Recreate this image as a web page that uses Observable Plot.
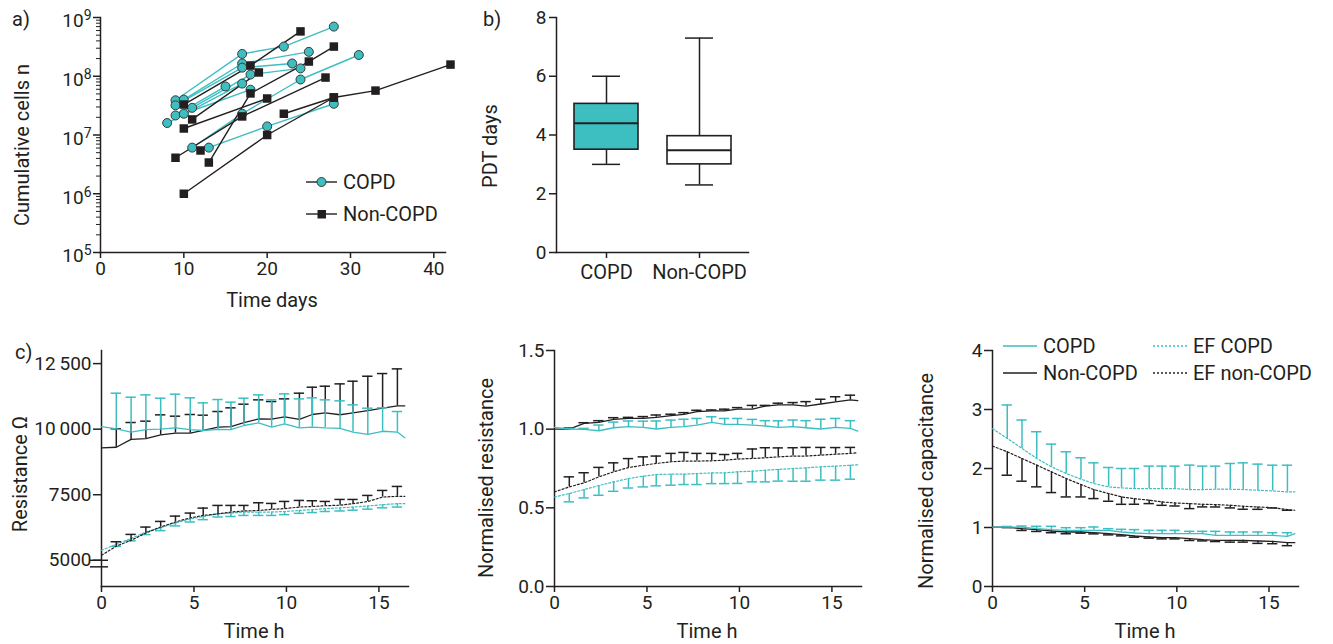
<!DOCTYPE html>
<html><head><meta charset="utf-8">
<script src="https://cdn.jsdelivr.net/npm/d3@7"></script>
<script src="https://cdn.jsdelivr.net/npm/@observablehq/plot@0.6"></script>
<style>
body{margin:0;background:#fff;}
#root{position:relative;width:1333px;height:644px;overflow:hidden;font-family:Roboto,"DejaVu Sans",sans-serif;color:#231f20;background:#fff;}
.lbl{position:absolute;font-size:20px;line-height:20px;white-space:nowrap;}
.rot{transform:translate(-50%,-50%) rotate(-90deg);}
.ctr{transform:translate(-50%,-50%);}
.leg{position:absolute;display:flex;align-items:center;font-size:20px;line-height:20px;white-space:nowrap;}
.leg svg{margin-right:6px;overflow:visible;}
</style></head><body><div id="root"></div><script>
// ---------- Panel a data ----------
const copdDonor = [1,1,1,1, 2,2,2, 3,3,3,3, 4,4,4, 5,5,5, 6,6,6, 7,7, 8,8, 9,9];
const copdDay   = [11,17,24,31, 13,20,28, 9,17,22,28, 10,17,25, 9,17,23, 11,18,24, 9,15, 10,18, 8,17];
const copdCells = [6.1e6,2.3e7,8.8e7,2.3e8, 6.1e6,1.4e7,3.4e7, 3.9e7,2.4e8,3.2e8,7.0e8, 4.0e7,1.65e8,2.6e8, 3.2e7,1.4e8,1.65e8, 2.9e7,1.07e8,1.36e8, 2.15e7,6.7e7, 2.3e7,5.9e7, 1.6e7,7.5e7];
const nonDonor = [1,1,1, 2,2,2, 3,3,3,3, 4,4,4,4, 5,5,5, 6,6, 7,7, 8];
const nonDay   = [10,20,28, 9,17,27, 13,18,25,28, 22,28,33,42, 10,18,24, 11,19, 10,20, 12];
const nonCells = [1.0e6,1.0e7,4.35e7, 4.1e6,2.07e7,9.5e7, 3.4e6,5.1e7,1.78e8,3.2e8, 2.3e7,4.35e7,5.7e7,1.58e8, 3.3e7,1.52e8,5.8e8, 1.84e7,1.16e8, 1.29e7,4.18e7, 5.45e6];
const aTicksX = [0,10,20,30,40];
const aTicksY = [1e5,1e6,1e7,1e8,1e9];

// ---------- Panel b data ----------
const boxGroups = ["COPD","Non-COPD"];
const boxMin = [3.0, 2.3];
const boxQ1  = [3.5, 3.0];
const boxMed = [4.4, 3.48];
const boxQ3  = [5.06, 3.96];
const boxMax = [6.0, 7.3];
const bTicksY = [0,2,4,6,8];

// ---------- Panel c data ----------
const times = [0,0.8,1.6,2.4,3.2,4.0,4.8,5.5,6.3,7.0,7.7,8.5,9.2,9.9,10.7,11.4,12.1,12.9,13.6,14.4,15.2,16.0,16.4];
const cTicksX = [0,5,10,15];
// resistance (ohm)
const resCopd = [10100,10010,9890,9980,10000,10050,9980,9950,9990,9980,10140,10240,10080,10200,10050,10080,10050,10030,9890,9800,9920,9890,9670];
const resCopdErr = [null,1362,1329,1328,1181,1284,1214,1053,1140,1049,1041,1068,1038,1146,1106,1114,1068,1050,1037,1000,893,783,null];
const resNon = [9290,9310,9610,9640,9780,9850,9850,9950,10080,10100,10250,10390,10380,10470,10370,10560,10620,10550,10620,10710,10800,10890,10890];
const resNonErr = [null,703,644,665,766,645,709,583,593,713,703,728,674,686,1002,1040,1018,1177,1209,1309,1321,1409,null];
const resEfCopd = [5380,5610,5830,6080,6240,6420,6580,6670,6770,6800,6840,6840,6840,6860,6900,6930,6970,7000,7030,7070,7120,7160,7160];
const resEfCopdErr = [null,80,90,100,110,110,120,120,120,130,130,130,130,120,110,110,110,120,120,120,120,130,null];
const resEfNon = [5190,5540,5760,6040,6270,6460,6620,6710,6770,6840,6880,6900,6940,6970,7030,7050,7080,7100,7160,7240,7410,7440,7440];
const resEfNonErr = [null,167,227,226,212,225,180,280,322,252,212,293,228,274,252,220,164,220,160,233,253,376,null];
const resTicksY = [5000,7500,10000,12500];
// normalised resistance
const nrCopd = [1.011,1.001,0.999,0.990,1.009,1.016,1.011,1.001,1.011,1.016,1.026,1.043,1.030,1.030,1.026,1.020,1.011,1.016,1.009,1.001,1.011,1.005,0.988];
const nrCopdErr = [null,.004,.006,.036,.036,.036,.040,.051,.047,.047,.042,.036,.038,.038,.036,.034,.042,.042,.045,.062,.057,.049,null];
const nrNon = [1.00,1.00,1.037,1.043,1.062,1.069,1.069,1.075,1.086,1.094,1.111,1.116,1.116,1.128,1.128,1.147,1.154,1.154,1.147,1.160,1.174,1.186,1.181];
const nrNonErr = [null,.008,.004,.011,.011,.006,.011,.015,.009,.011,.009,.006,.011,.009,.023,.004,.011,.015,.028,.030,.032,.030,null];
const nrEfCopd = [0.569,0.591,0.616,0.642,0.665,0.686,0.701,0.712,0.714,0.714,0.718,0.722,0.722,0.729,0.733,0.739,0.744,0.750,0.754,0.761,0.765,0.771,0.773];
const nrEfCopdErr = [null,.053,.053,.062,.060,.060,.068,.072,.070,.066,.070,.068,.068,.074,.068,.074,.074,.081,.085,.085,.089,.089,null];
const nrEfNon = [0.601,0.633,0.659,0.697,0.729,0.756,0.771,0.782,0.793,0.797,0.797,0.799,0.803,0.810,0.814,0.818,0.824,0.829,0.829,0.835,0.841,0.846,0.850];
const nrEfNonErr = [null,.064,.064,.060,.057,.057,.053,.047,.053,.055,.049,.047,.036,.036,.060,.064,.057,.053,.055,.049,.042,.038,null];
const nrTicksY = [0,0.5,1.0,1.5];
// normalised capacitance
const ncCopd = [1.008,1.008,1.008,0.980,0.963,0.952,0.952,0.952,0.952,0.924,0.907,0.895,0.895,0.895,0.895,0.895,0.867,0.867,0.867,0.867,0.867,0.850,0.895];
const ncCopdErr = [null,.01,.017,.040,.057,.045,.045,.057,.028,.045,.057,.057,.057,.057,.040,.040,.068,.057,.057,.057,.045,.062,null];
const ncNon = [1.008,1.008,0.980,0.963,0.941,0.924,0.924,0.912,0.895,0.878,0.856,0.839,0.827,0.827,0.810,0.793,0.782,0.782,0.782,0.771,0.765,0.742,0.742];
const ncNonErr = [null,.01,.03,.03,.03,.03,.02,.02,.02,.02,.02,.02,.02,.02,.03,.02,.02,.03,.03,.04,.04,.05,null];
const ncEfCopd = [2.674,2.510,2.340,2.170,2.028,1.915,1.819,1.745,1.688,1.671,1.660,1.660,1.660,1.660,1.643,1.643,1.649,1.649,1.643,1.632,1.620,1.603,1.603];
const ncEfCopdErr = [null,.567,.482,.453,.385,.368,.363,.351,.329,.329,.340,.380,.380,.380,.414,.397,.391,.436,.453,.442,.436,.453,null];
const ncEfNon = [2.380,2.283,2.170,2.057,1.943,1.830,1.728,1.643,1.575,1.518,1.490,1.462,1.433,1.416,1.405,1.394,1.388,1.377,1.360,1.348,1.337,1.303,1.292];
const ncEfNonErr = [null,.397,.385,.368,.351,.312,.210,.153,.130,.125,.096,.057,.057,.051,.085,.045,.040,.045,.051,.040,.006,.011,null];
const ncTicksY = [0,1,2,3,4];

// ---------- styling ----------
const teal = "#3dbec1", ink = "#231f20";
const root = document.getElementById("root");
const baseStyle = {fontFamily: "Roboto, 'DejaVu Sans', sans-serif", fontSize: "19px", color: ink, background: "transparent", overflow: "visible"};
function put(node, left, top) {
  node.style.position = "absolute"; node.style.left = left + "px"; node.style.top = top + "px";
  root.appendChild(node); return node;
}
function label(text, x, y, cls) {
  const d = document.createElement("div");
  d.className = "lbl " + cls; d.textContent = text;
  d.style.left = x + "px"; d.style.top = y + "px";
  root.appendChild(d);
}
function legendItem(text, x, yc, swatch) {
  const d = document.createElement("div");
  d.className = "leg";
  d.innerHTML = swatch;
  d.appendChild(document.createTextNode(text));
  d.style.left = x + "px"; d.style.top = (yc - 10) + "px";
  root.appendChild(d);
}

// ---------- Panel a ----------
const copd = copdDay.map((d, i) => ({donor: copdDonor[i], day: d, cells: copdCells[i]}));
const non = nonDay.map((d, i) => ({donor: nonDonor[i], day: d, cells: nonCells[i]}));
const minorA = [];
for (let e = 5; e < 9; e++) for (let m = 2; m < 10; m++) minorA.push(m * Math.pow(10, e));
const plotA = Plot.plot({
  width: 460, height: 320, marginLeft: 100, marginRight: 15, marginTop: 17, marginBottom: 68,
  style: baseStyle,
  x: {domain: [0, 41.4]},
  y: {type: "log", domain: [1e5, 1e9]},
  marks: [
    Plot.frame({anchor: "left", stroke: ink, strokeWidth: 1.5}),
    Plot.frame({anchor: "bottom", stroke: ink, strokeWidth: 1.5}),
    Plot.axisY({ticks: minorA, tickSize: 4, tickFormat: () => "", strokeWidth: 1, label: null}),
    Plot.axisY({ticks: aTicksY, tickSize: 7, tickPadding: 2, strokeWidth: 1.5, label: null,
      tickFormat: d => "10^" + Math.round(Math.log10(d))}),
    Plot.axisX({ticks: aTicksX, tickSize: 6, tickPadding: 3, strokeWidth: 1.5, label: null}),
    Plot.line(copd, {x: "day", y: "cells", z: "donor", stroke: teal, strokeWidth: 1.4}),
    Plot.line(non, {x: "day", y: "cells", z: "donor", stroke: ink, strokeWidth: 1.4}),
    Plot.dot(copd, {x: "day", y: "cells", r: 4.5, fill: teal, stroke: "#3a3a3a", strokeWidth: 1}),
    Plot.dot(non, {x: "day", y: "cells", symbol: "square", r: 4.8, fill: ink})
  ]
});
// render exponents as real superscript tspans
plotA.querySelectorAll("text").forEach(t => {
  const m = /^10\^(\d)$/.exec(t.textContent);
  if (m) {
    t.textContent = "10";
    const ts = document.createElementNS("http://www.w3.org/2000/svg", "tspan");
    ts.setAttribute("dy", "-0.5em");
    ts.setAttribute("font-size", "14");
    ts.textContent = m[1];
    t.appendChild(ts);
    t.setAttribute("dy", "0.2em");
  }
});
put(plotA, 0, 0);
label("a)", 12, 9, "");
label("Cumulative cells n", 22, 145, "rot");
label("Time days", 272, 300, "ctr");
legendItem("COPD", 306, 182, `<svg width="31" height="12"><line x1="0" x2="31" y1="6" y2="6" stroke="${ink}" stroke-width="1.4"/><circle cx="15.5" cy="6" r="4.5" fill="${teal}" stroke="#3a3a3a"/></svg>`);
legendItem("Non-COPD", 306, 214, `<svg width="31" height="12"><line x1="0" x2="31" y1="6" y2="6" stroke="${ink}" stroke-width="1.4"/><rect x="11.5" y="2" width="8.5" height="8.5" fill="${ink}"/></svg>`);

// ---------- Panel b ----------
const boxes = boxGroups.map((g, i) => ({group: g, min: boxMin[i], q1: boxQ1[i], median: boxMed[i], q3: boxQ3[i], max: boxMax[i]}));
const plotB = Plot.plot({
  width: 280, height: 320, marginLeft: 76, marginRight: 12, marginTop: 17, marginBottom: 68,
  style: baseStyle,
  x: {domain: boxGroups, paddingInner: 0.315, paddingOuter: 0.18},
  y: {domain: [0, 8]},
  marks: [
    Plot.frame({anchor: "left", stroke: ink, strokeWidth: 1.5}),
    Plot.frame({anchor: "bottom", stroke: ink, strokeWidth: 1.5}),
    Plot.axisY({ticks: bTicksY, tickSize: 7, tickPadding: 3, strokeWidth: 1.5, label: null}),
    Plot.axisX({tickSize: 6, tickPadding: 6, strokeWidth: 1.5, fontSize: 20, label: null}),
    Plot.ruleX(boxes, {x: "group", y1: "min", y2: "q1", stroke: ink, strokeWidth: 1.5}),
    Plot.ruleX(boxes, {x: "group", y1: "q3", y2: "max", stroke: ink, strokeWidth: 1.5}),
    Plot.tickY(boxes, {x: "group", y: "min", insetLeft: 18, insetRight: 18, stroke: ink, strokeWidth: 1.5}),
    Plot.tickY(boxes, {x: "group", y: "max", insetLeft: 18, insetRight: 18, stroke: ink, strokeWidth: 1.5}),
    Plot.barY(boxes, {x: "group", y1: "q1", y2: "q3", fill: d => d.group === "COPD" ? teal : "#fff", stroke: ink, strokeWidth: 1.6}),
    Plot.tickY(boxes, {x: "group", y: "median", stroke: ink, strokeWidth: 2})
  ]
});
put(plotB, 480, 0);
label("b)", 483, 9, "");
label("PDT days", 490, 146, "rot");

// ---------- Panel c helpers ----------
const capHalf = 0.28;
function mk(vals, errs, dir) {
  return times.map((t, i) => ({t, v: vals[i], end: errs[i] == null ? null : vals[i] + dir * errs[i]}));
}
function seriesMarks(data, color, dashed) {
  const bars = data.filter(d => d.end != null);
  return [
    Plot.line(data, {x: "t", y: "v", stroke: color, strokeWidth: dashed ? 1.2 : 1.3, strokeDasharray: dashed ? "2,2" : null}),
    Plot.ruleX(bars, {x: "t", y1: "v", y2: "end", stroke: color, strokeWidth: 1.5}),
    Plot.ruleY(bars, {y: "end", x1: d => d.t - capHalf, x2: d => d.t + capHalf, stroke: color, strokeWidth: 1.5})
  ];
}
function cPanel({width, marginLeft, marginRight, yDomain, yTicks, yFormat, series, extra = []}) {
  return Plot.plot({
    width, height: 314, marginLeft, marginRight, marginTop: 20, marginBottom: 58,
    style: baseStyle,
    x: {domain: [0, 16.6]},
    y: {domain: yDomain},
    marks: [
      Plot.frame({anchor: "left", stroke: ink, strokeWidth: 1.5}),
      Plot.frame({anchor: "bottom", stroke: ink, strokeWidth: 1.5}),
      Plot.axisY({ticks: yTicks, tickSize: 8, tickPadding: 2, strokeWidth: 1.5, tickFormat: yFormat, label: null}),
      Plot.axisX({ticks: cTicksX, tickSize: 6, tickPadding: 3, strokeWidth: 1.5, label: null}),
      ...extra,
      ...series.flatMap(s => seriesMarks(s[0], s[1], s[2]))
    ]
  });
}

// c1: resistance
const plotC1 = cPanel({
  width: 420, marginLeft: 101, marginRight: 12,
  yDomain: [4000, 13000], yTicks: resTicksY,
  yFormat: d => d >= 10000 ? d3.format("d")(d).replace(/(\d\d)(\d{3})$/, "$1\u2009$2") : String(d),
  extra: [Plot.axisY({ticks: [5000, 4750], tickSize: 18, dx: 7, strokeWidth: 1.5, tickFormat: () => "", label: null})],
  series: [
    [mk(resEfCopd, resEfCopdErr, -1), teal, true],
    [mk(resEfNon, resEfNonErr, 1), ink, true],
    [mk(resNon, resNonErr, 1), ink, false],
    [mk(resCopd, resCopdErr, 1), teal, false]
  ]
});
put(plotC1, 0, 330);
label("c)", 15, 342, "");
label("Resistance \u03A9", 20, 474, "rot");
label("Time h", 254, 631, "ctr");

// c2: normalised resistance
const plotC2 = cPanel({
  width: 420, marginLeft: 94, marginRight: 19,
  yDomain: [0, 1.5], yTicks: nrTicksY, yFormat: d3.format(".1f"),
  series: [
    [mk(nrEfCopd, nrEfCopdErr, -1), teal, true],
    [mk(nrEfNon, nrEfNonErr, 1), ink, true],
    [mk(nrNon, nrNonErr, 1), ink, false],
    [mk(nrCopd, nrCopdErr, 1), teal, false]
  ]
});
put(plotC2, 460, 330);
label("Normalised resistance", 486, 478, "rot");
label("Time h", 707, 631, "ctr");

// c3: normalised capacitance
const plotC3 = cPanel({
  width: 433, marginLeft: 92, marginRight: 35,
  yDomain: [0, 4], yTicks: ncTicksY, yFormat: d3.format("d"),
  series: [
    [mk(ncEfCopd, ncEfCopdErr, 1), teal, true],
    [mk(ncEfNon, ncEfNonErr, -1), ink, true],
    [mk(ncNon, ncNonErr, -1), ink, false],
    [mk(ncCopd, ncCopdErr, 1), teal, false]
  ]
});
put(plotC3, 900, 330);
label("Normalised capacitance", 926, 481, "rot");
label("Time h", 1145, 631, "ctr");
const sw = (c, dash) => `<svg width="34" height="4"><line x1="0" x2="34" y1="2" y2="2" stroke="${c}" stroke-width="1.4" ${dash ? 'stroke-dasharray="2,2"' : ""}/></svg>`;
legendItem("COPD", 1003, 346, sw(teal, false));
legendItem("EF COPD", 1153, 346, sw(teal, true));
legendItem("Non-COPD", 1003, 373, sw(ink, false));
legendItem("EF non-COPD", 1153, 373, sw(ink, true));
</script></body></html>
